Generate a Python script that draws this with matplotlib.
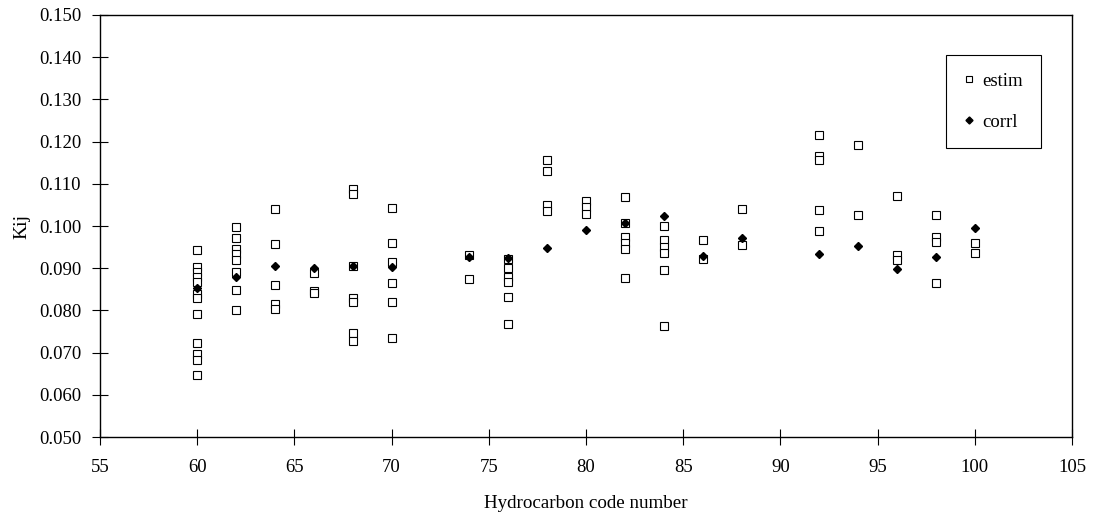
import matplotlib
matplotlib.use('Agg')
import matplotlib.pyplot as plt
from matplotlib.ticker import MultipleLocator, FormatStrFormatter

plt.rcParams['font.family'] = ['Liberation Serif', 'DejaVu Serif']

# estimated Kij, several values per hydrocarbon
estim_x = [60] * 12 + [62] * 8 + [64] * 5 + [66] * 3 + [68] * 7 + [70] * 6 + \
          [74] * 2 + [76] * 6 + [78] * 4 + [80] * 3 + [82] * 6 + [84] * 6 + \
          [86] * 2 + [88] * 2 + [92] * 5 + [94] * 2 + [96] * 3 + [98] * 4 + [100] * 2
estim_y = [0.0943, 0.0902, 0.0890, 0.0880, 0.0868, 0.0840, 0.0830, 0.0792, 0.0723, 0.0697, 0.0683, 0.0647,
           0.0997, 0.0971, 0.0946, 0.0933, 0.0920, 0.0891, 0.0848, 0.0800,
           0.1040, 0.0957, 0.0860, 0.0816, 0.0803,
           0.0889, 0.0846, 0.0842,
           0.1087, 0.1075, 0.0905, 0.0830, 0.0820, 0.0746, 0.0728,
           0.1042, 0.0960, 0.0915, 0.0865, 0.0820, 0.0735,
           0.0932, 0.0875,
           0.0923, 0.0900, 0.0880, 0.0868, 0.0831, 0.0768,
           0.1157, 0.1130, 0.1050, 0.1035,
           0.1060, 0.1044, 0.1028,
           0.1068, 0.1007, 0.0975, 0.0960, 0.0945, 0.0877,
           0.1000, 0.0967, 0.0951, 0.0937, 0.0895, 0.0764,
           0.0968, 0.0922,
           0.1041, 0.0955,
           0.1216, 0.1165, 0.1157, 0.1037, 0.0987,
           0.1191, 0.1027,
           0.1072, 0.0931, 0.0919,
           0.1025, 0.0975, 0.0961, 0.0864,
           0.0960, 0.0935]

# correlated Kij, one per hydrocarbon
corrl_x = [60, 62, 64, 66, 68, 70, 74, 76, 78, 80, 82, 84, 86, 88, 92, 94, 96, 98, 100]
corrl_y = [0.0853, 0.0880, 0.0905, 0.0900, 0.0905, 0.0903, 0.0927, 0.0925, 0.0947, 0.0991,
           0.1006, 0.1023, 0.0930, 0.0971, 0.0934, 0.0952, 0.0897, 0.0926, 0.0995]

fig = plt.figure(figsize=(10.95, 5.17), dpi=100)
ax = fig.add_axes([0.0913, 0.1547, 0.8877, 0.8163])

ax.plot(estim_x, estim_y, linestyle='none', marker='s', markersize=5.2,
        markerfacecolor='white', markeredgecolor='black', markeredgewidth=0.8, label='estim')
ax.plot(corrl_x, corrl_y, linestyle='none', marker='D', markersize=4.2,
        color='black', label='corrl')

ax.set_xlim(55, 105)
ax.set_ylim(0.050, 0.150)
ax.xaxis.set_major_locator(MultipleLocator(5))
ax.yaxis.set_major_locator(MultipleLocator(0.010))
ax.yaxis.set_major_formatter(FormatStrFormatter('%.3f'))
ax.tick_params(direction='inout', length=11, width=0.8, labelsize=13.5, pad=8)
ax.tick_params(axis='x', pad=10)

for s in ax.spines.values():
    s.set_linewidth(1.0)

ax.set_xlabel('Hydrocarbon code number', fontsize=13.7, labelpad=14)
ax.set_ylabel('Kij', fontsize=14, labelpad=6)

leg = ax.legend(loc='upper right', bbox_to_anchor=(0.968, 0.905), borderaxespad=0,
                fontsize=13.5, frameon=True, fancybox=False, edgecolor='black', framealpha=1,
                handletextpad=0.4, labelspacing=1.25, borderpad=0.95, handlelength=0.6,
                markerscale=0.85)
leg.get_frame().set_linewidth(0.8)

fig.savefig('out.png', dpi=100)
